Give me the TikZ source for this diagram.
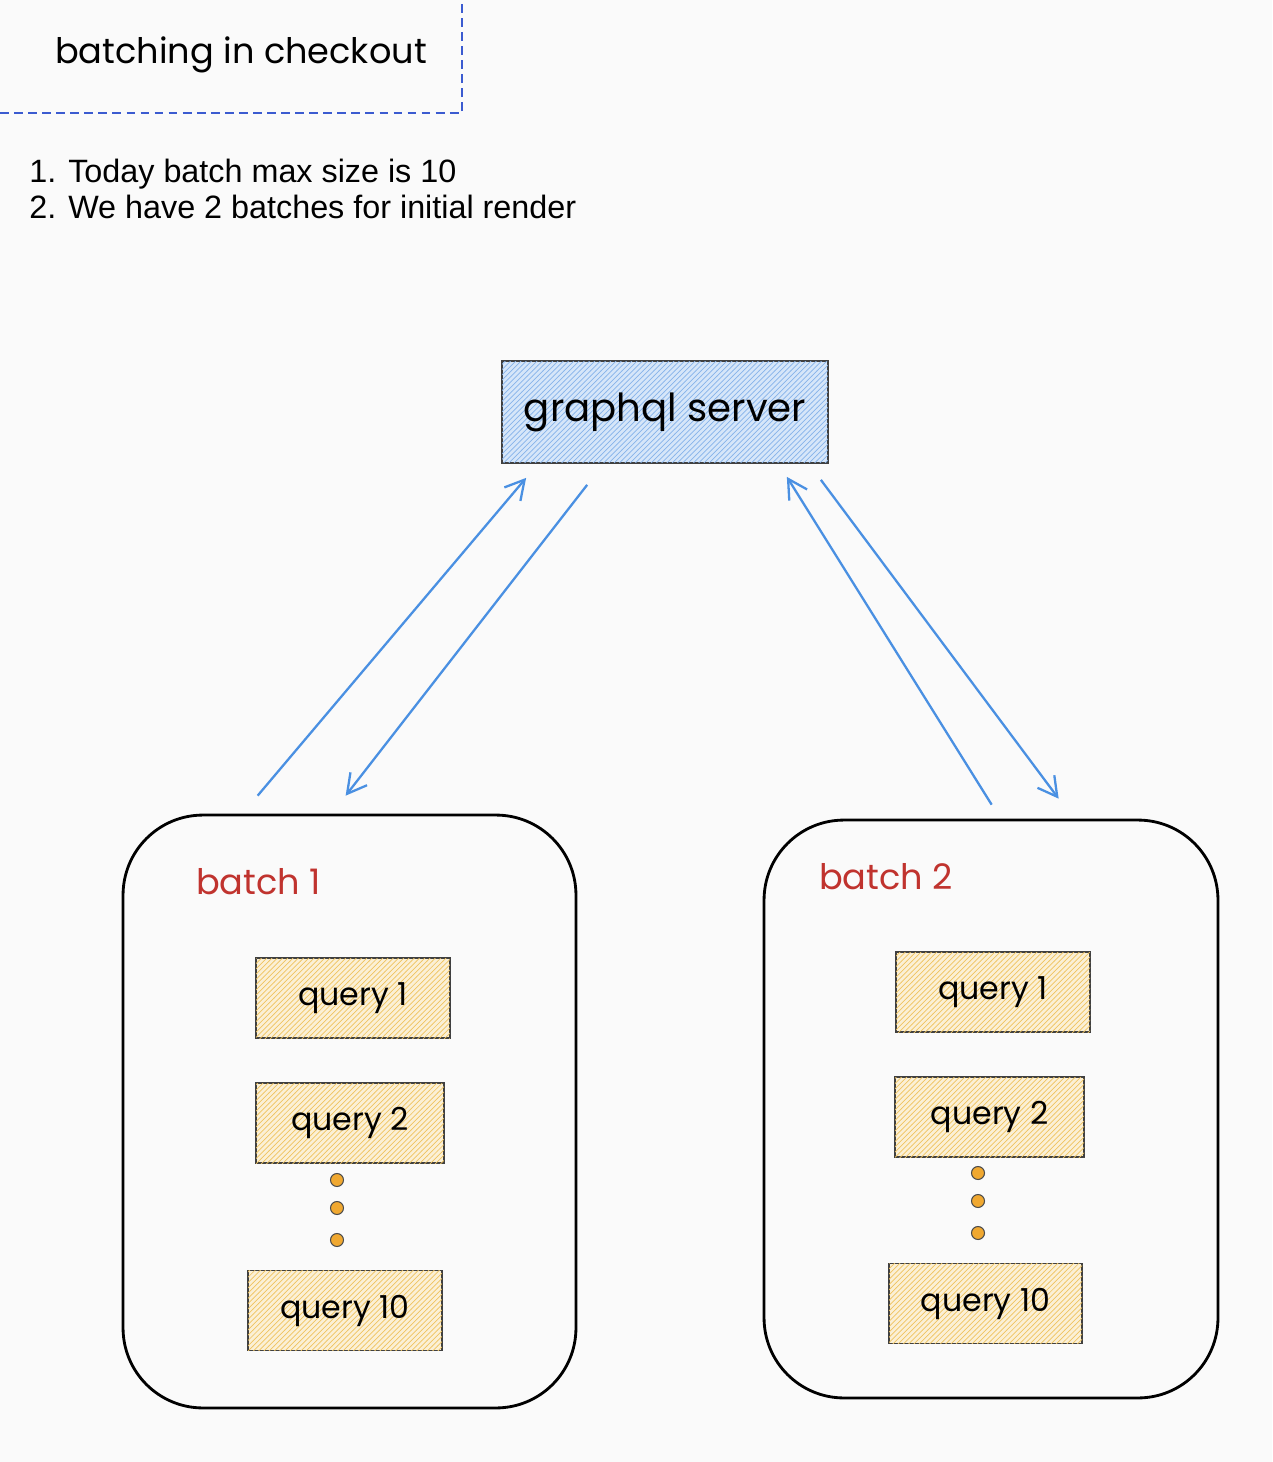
\documentclass[tikz,border=0pt]{standalone}
\usepackage{fontspec}
\setmainfont{Liberation Sans}
\newfontfamily\sketchfont{Poppins}
\usetikzlibrary{arrows.meta,patterns}

\definecolor{bgcol}{HTML}{FAFAFA}
\definecolor{framecol}{HTML}{3B5BD0}
\definecolor{linkcol}{HTML}{4A90E2}
\definecolor{serverfill}{HTML}{D6E6F9}
\definecolor{serverhatch}{HTML}{86B3EA}
\definecolor{queryfill}{HTML}{FBF0D6}
\definecolor{queryhatch}{HTML}{EFC35F}
\definecolor{batchred}{HTML}{C0332E}
\definecolor{dotcol}{HTML}{F0A830}

\begin{document}
\begin{tikzpicture}[
        x=0.02cm, y=-0.02cm,
        titletext/.style={font=\sketchfont\fontsize{20}{24}\selectfont},
        notes/.style={anchor=west, align=left, inner sep=0pt, font=\fontsize{18.4}{20.4}\selectfont},
        serverbox/.style={rectangle, draw=black!75, line width=1pt, fill=serverfill,
            postaction={pattern=north east lines, pattern color=serverhatch},
            minimum width=6.52cm, minimum height=2.04cm, font=\sketchfont\fontsize{22}{26}\selectfont},
        batchbox/.style={rectangle, draw=black, line width=1.6pt, rounded corners=1.6cm},
        batchlabel/.style={anchor=west, text=batchred, font=\sketchfont\fontsize{20}{24}\selectfont},
        querybox/.style={rectangle, draw=black!75, line width=0.9pt, fill=queryfill,
            postaction={pattern=north east lines, pattern color=queryhatch},
            minimum height=1.6cm, font=\sketchfont\fontsize{18}{22}\selectfont},
        dot/.style={circle, draw=black!70, fill=dotcol, line width=0.6pt, minimum size=0.26cm, inner sep=0pt},
        arrow/.style={-{Straight Barb[length=0.38cm,width=0.42cm]}, draw=linkcol, line width=1.3pt}
    ]

    % Page
    \fill[bgcol] (0,0) rectangle (1272,1462);
    \useasboundingbox (0,0) rectangle (1272,1462);

    % Title and notes
    \draw[framecol, line width=1.5pt, dash pattern=on 5pt off 3pt] (0,113) -- (462,113) -- (462,0);
    \node[titletext] (title) at (241,55) {batching in checkout};
    \node[notes] (notes) at (29,189) {1. Today batch max size is 10\\2. We have 2 batches for initial render};

    % Server
    \node[serverbox] (server) at (665,412) {graphql server};

    % Batch 1
    \node[batchbox, minimum width=9.06cm, minimum height=11.86cm] (batch1) at (349.5,1111.5) {};
    \node[batchlabel] (batch1-label) at (190,882) {batch 1};
    \node[querybox, minimum width=3.88cm] (b1-q1) at (353,998) {query 1};
    \node[querybox, minimum width=3.76cm] (b1-q2) at (350,1123) {query 2};
    \node[dot] (b1-dot1) at (337,1180) {};
    \node[dot] (b1-dot2) at (337,1208) {};
    \node[dot] (b1-dot3) at (337,1240) {};
    \node[querybox, minimum width=3.88cm] (b1-q10) at (345,1310.5) {query 10};

    % Batch 2
    \node[batchbox, minimum width=9.08cm, minimum height=11.56cm] (batch2) at (991,1109) {};
    \node[batchlabel] (batch2-label) at (813,877) {batch 2};
    \node[querybox, minimum width=3.88cm] (b2-q1) at (993,992) {query 1};
    \node[querybox, minimum width=3.78cm] (b2-q2) at (989.5,1117) {query 2};
    \node[dot] (b2-dot1) at (978,1173) {};
    \node[dot] (b2-dot2) at (978,1201) {};
    \node[dot] (b2-dot3) at (978,1233) {};
    \node[querybox, minimum width=3.86cm] (b2-q10) at (985.5,1303.5) {query 10};

    % Arrows
    \draw[arrow] ([shift={(136,-18)}]batch1.north west) -- ([shift={(25,14)}]server.south west);
    \draw[arrow] ([shift={(86,21)}]server.south west) -- ([shift={(224,-18)}]batch1.north west);
    \draw[arrow] ([shift={(229,-14)}]batch2.north west) -- ([shift={(-42,13)}]server.south east);
    \draw[arrow] ([shift={(-8,16)}]server.south east) -- ([shift={(296,-20)}]batch2.north west);

    \end{tikzpicture}
\end{document}
